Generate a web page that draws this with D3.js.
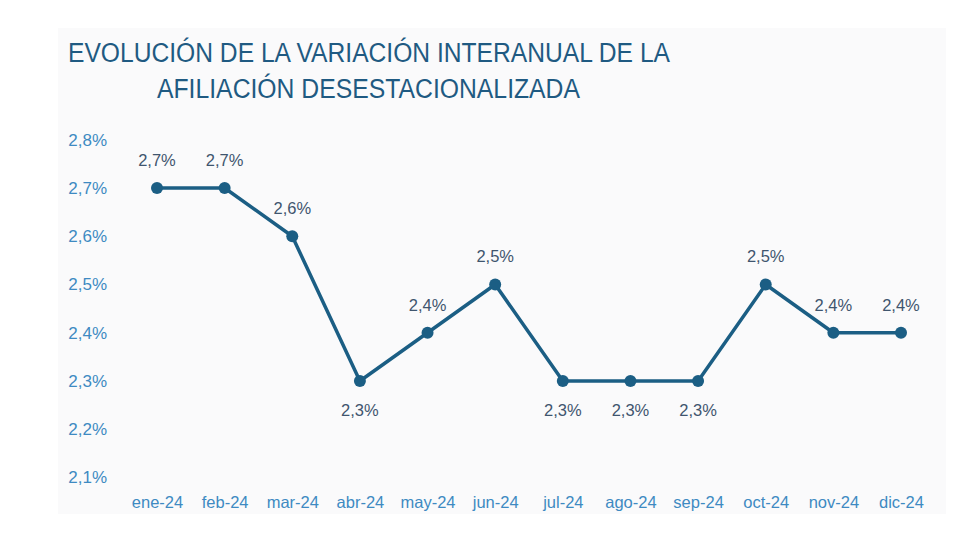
<!DOCTYPE html>
<html>
<head>
<meta charset="utf-8">
<script src="https://cdn.jsdelivr.net/npm/d3@7"></script>
<style>
  html, body { margin: 0; padding: 0; background: #ffffff; }
  svg { display: block; }
</style>
</head>
<body>
<svg id="chart" width="980" height="560"></svg>
<script>
const titleLines = ["EVOLUCIÓN DE LA VARIACIÓN INTERANUAL DE LA", "AFILIACIÓN DESESTACIONALIZADA"];
const categories = ["ene-24","feb-24","mar-24","abr-24","may-24","jun-24","jul-24","ago-24","sep-24","oct-24","nov-24","dic-24"];
const values = [2.7, 2.7, 2.6, 2.3, 2.4, 2.5, 2.3, 2.3, 2.3, 2.5, 2.4, 2.4];
const yTicks = [2.1, 2.2, 2.3, 2.4, 2.5, 2.6, 2.7, 2.8];
// labels placed below the point (local minima)
const labelBelow = [false, false, false, true, false, false, true, true, true, false, false, false];

const svg = d3.select("#chart");
const fmt = v => d3.format(".1f")(v).replace(".", ",") + "%";

// panel background
svg.append("rect")
  .attr("x", 58).attr("y", 28).attr("width", 888).attr("height", 486)
  .attr("fill", "#fafafb");

// title
const titleX = [68, 157];
const titleY = [62, 98];
const titleW = [602, 423];
titleLines.forEach((t, i) => {
  svg.append("text")
    .attr("x", titleX[i]).attr("y", titleY[i])
    .attr("font-family", "'Liberation Sans Narrow', 'Liberation Sans', Arial, sans-serif")
    .attr("font-size", 27)
    .attr("fill", "#1f5a82")
    .attr("textLength", titleW[i])
    .attr("lengthAdjust", "spacingAndGlyphs")
    .text(t);
});

const x = d3.scalePoint().domain(categories).range([157, 901]);
const y = d3.scaleLinear().domain([2.1, 2.8]).range([477.5, 139.75]);

// y axis
const yAxis = svg.append("g")
  .attr("transform", "translate(107,0)")
  .call(d3.axisLeft(y).tickValues(yTicks).tickFormat(fmt).tickSize(0).tickPadding(0));
yAxis.select(".domain").remove();
yAxis.selectAll("text")
  .attr("font-family", "'Liberation Sans', Arial, sans-serif")
  .attr("font-size", 17)
  .attr("fill", "#3e8ac2");

// x axis
const xAxis = svg.append("g")
  .attr("transform", "translate(0,496)")
  .call(d3.axisBottom(x).tickSize(0).tickPadding(0));
xAxis.select(".domain").remove();
xAxis.selectAll("text")
  .attr("font-family", "'Liberation Sans', Arial, sans-serif")
  .attr("font-size", 16.5)
  .attr("fill", "#3e8ac2");

// line
const line = d3.line()
  .x((d, i) => x(categories[i]))
  .y(d => y(d));
svg.append("path")
  .datum(values)
  .attr("d", line)
  .attr("fill", "none")
  .attr("stroke", "#1b5e84")
  .attr("stroke-width", 3.5)
  .attr("stroke-linejoin", "round");

// markers
svg.selectAll("circle.pt")
  .data(values)
  .enter().append("circle")
  .attr("class", "pt")
  .attr("cx", (d, i) => x(categories[i]))
  .attr("cy", d => y(d))
  .attr("r", 6)
  .attr("fill", "#1b5e84");

// data labels
svg.selectAll("text.lbl")
  .data(values)
  .enter().append("text")
  .attr("class", "lbl")
  .attr("x", (d, i) => x(categories[i]))
  .attr("y", (d, i) => y(d) + (labelBelow[i] ? 29 : -28))
  .attr("dy", "0.35em")
  .attr("text-anchor", "middle")
  .attr("font-family", "'Liberation Sans', Arial, sans-serif")
  .attr("font-size", 16.5)
  .attr("fill", "#3f556e")
  .text(d => fmt(d));
</script>
</body>
</html>
